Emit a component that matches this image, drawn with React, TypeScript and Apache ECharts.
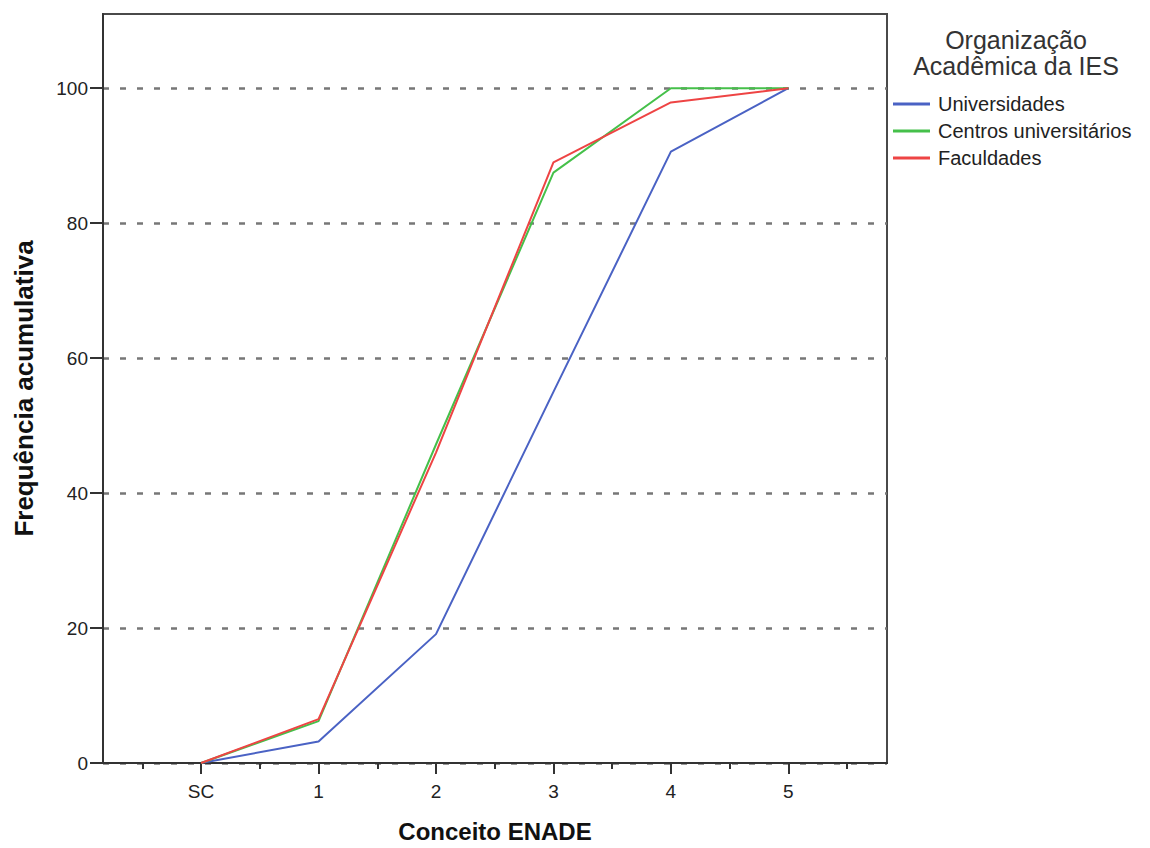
import React, { useEffect, useRef } from "react";
import * as echarts from "echarts";

const categories = ["SC", "1", "2", "3", "4", "5"];
const universidades = [0, 3.2, 19.1, 55.0, 90.6, 100];
const centros = [0, 6.2, 47.2, 87.5, 100, 100];
const faculdades = [0, 6.5, 46.0, 89.0, 97.9, 100];
const yTicks = [0, 20, 40, 60, 80, 100];
const minorTicks = [-0.5, 0.5, 1.5, 2.5, 3.5, 4.5, 5.5];
const seriesNames = ["Universidades", "Centros universitários", "Faculdades"];
const legendTitleLines = ["Organização", "Acadêmica da IES"];

const FONT = "'Liberation Sans', Arial, sans-serif";

export default function App() {
  const ref = useRef<HTMLDivElement>(null);
  useEffect(() => {
    document.body.style.margin = "0";
    const chart = echarts.init(ref.current!, null, { renderer: "svg" });
    const xs = categories.map((_, i) => i);
    const toPairs = (arr: number[]) => arr.map((v, i) => [xs[i], v]);
    const xMin = -0.835;
    const xMax = 5.84;
    chart.setOption({
      animation: false,
      textStyle: { fontFamily: FONT },
      grid: {
        left: 103,
        top: 14,
        right: 263,
        bottom: 85,
        show: true,
        borderColor: "#4a4a4a",
        borderWidth: 2,
        backgroundColor: "transparent",
      },
      legend: {
        orient: "vertical",
        left: 888,
        top: 89,
        itemWidth: 37,
        itemHeight: 3,
        itemGap: 7,
        icon: "rect",
        textStyle: { fontSize: 20, color: "#222", fontFamily: FONT, padding: [0, 0, 0, 3] },
        data: seriesNames,
      },
      graphic: legendTitleLines.map((t, i) => ({
        type: "text",
        x: 1016,
        y: 40 + i * 26,
        style: {
          text: t,
          fontSize: 25,
          fontFamily: FONT,
          fill: "#333",
          align: "center",
          verticalAlign: "middle",
        },
      })),
      xAxis: [
        {
          type: "value",
          min: xMin,
          max: xMax,
          position: "bottom",
          name: "Conceito ENADE",
          nameLocation: "middle",
          nameGap: 56,
          nameTextStyle: { fontSize: 24, fontWeight: "bold", color: "#111", fontFamily: FONT },
          axisLine: { show: true, onZero: false, lineStyle: { color: "#333", width: 2 } },
          axisTick: {
            show: true,
            customValues: xs,
            length: 11,
            lineStyle: { color: "#333", width: 2 },
          },
          axisLabel: {
            customValues: xs,
            formatter: (v: number) => categories[Math.round(v)] ?? "",
            fontSize: 19,
            color: "#222",
            margin: 19,
            fontFamily: FONT,
          },
          splitLine: { show: false },
        },
        {
          type: "value",
          min: xMin,
          max: xMax,
          position: "bottom",
          axisLine: { show: false, onZero: false },
          axisTick: {
            show: true,
            customValues: minorTicks,
            length: 6,
            lineStyle: { color: "#333", width: 2 },
          },
          axisLabel: { show: false },
          splitLine: { show: false },
        },
      ],
      yAxis: {
        type: "value",
        min: 0,
        max: 111,
        name: "Frequência acumulativa",
        nameLocation: "middle",
        nameGap: 66,
        nameTextStyle: { fontSize: 26, fontWeight: "bold", color: "#111", fontFamily: FONT },
        axisLine: { show: true, onZero: false, lineStyle: { color: "#333", width: 2 } },
        axisTick: {
          show: true,
          customValues: yTicks,
          length: 13,
          lineStyle: { color: "#333", width: 2 },
        },
        axisLabel: {
          customValues: yTicks,
          fontSize: 19,
          color: "#222",
          margin: 15,
          fontFamily: FONT,
        },
        splitLine: {
          show: true,
          lineStyle: { color: "#777", width: 2.5, type: [6, 11] },
        },
      },
      series: [
        {
          name: seriesNames[0],
          type: "line",
          data: toPairs(universidades),
          showSymbol: false,
          symbol: "none",
          lineStyle: { width: 2, color: "#4a62c4" },
          itemStyle: { color: "#4a62c4" },
          z: 3,
        },
        {
          name: seriesNames[1],
          type: "line",
          data: toPairs(centros),
          showSymbol: false,
          symbol: "none",
          lineStyle: { width: 2, color: "#45c04a" },
          itemStyle: { color: "#45c04a" },
          z: 3,
        },
        {
          name: seriesNames[2],
          type: "line",
          data: toPairs(faculdades),
          showSymbol: false,
          symbol: "none",
          lineStyle: { width: 2, color: "#ee4444" },
          itemStyle: { color: "#ee4444" },
          z: 4,
        },
      ],
    });
    return () => chart.dispose();
  }, []);
  return <div ref={ref} style={{ width: 1150, height: 848 }} />;
}
